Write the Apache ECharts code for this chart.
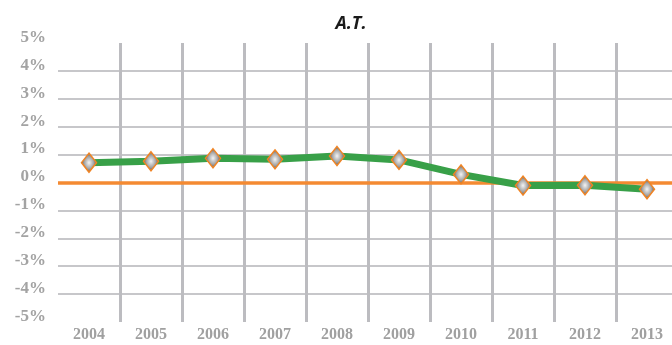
<!DOCTYPE html>
<html><head><meta charset="utf-8">
<script src="https://cdn.jsdelivr.net/npm/echarts@6/dist/echarts.min.js"></script>
<style>html,body{margin:0;padding:0;background:#fff}#c{width:672px;height:345px}</style>
</head><body><div id="c"></div>
<script>
var years = ['2004','2005','2006','2007','2008','2009','2010','2011','2012','2013'];
var values = [0.71, 0.76, 0.87, 0.83, 0.95, 0.81, 0.29, -0.11, -0.10, -0.24];
var yMin = -5, yMax = 5, yStep = 1;
var titleText = 'A.T.';

var chart = echarts.init(document.getElementById('c'));
chart.setOption({
  animation: false,
  backgroundColor: '#ffffff',
  title: {
    text: titleText, left: 346, top: 10, textAlign: 'center',
    textStyle: {fontFamily: 'Open Sans', fontStyle: 'italic', fontWeight: 'bold', fontSize: 18, color: '#1a1a1a'}
  },
  grid: {left: 58, top: 43, width: 620, height: 279, containLabel: false, outerBoundsMode: 'none'},
  xAxis: {
    type: 'category', data: years, boundaryGap: true,
    axisLine: {show: false}, axisTick: {show: false},
    axisLabel: {margin: 5, fontFamily: 'Liberation Serif', fontWeight: 'bold', fontSize: 16, color: '#a0a0a0'},
    splitLine: {show: true, showMinLine: false, lineStyle: {color: '#bcbcc0', width: 3}}
  },
  yAxis: {
    type: 'value', min: yMin, max: yMax, interval: yStep,
    axisLine: {show: false}, axisTick: {show: false},
    axisLabel: {margin: 12, formatter: '{value}%', fontFamily: 'Liberation Serif', fontWeight: 'bold', fontSize: 17, color: '#a3a3a3', verticalAlign: 'bottom', lineHeight: 11},
    splitLine: {show: true, showMinLine: false, showMaxLine: false, lineStyle: {color: '#b4b4b8', width: 1.5}}
  },
  series: [{
    type: 'line', data: values,
    lineStyle: {color: '#38a048', width: 7},
    symbol: 'diamond', symbolSize: [15, 19],
    itemStyle: {
      color: new echarts.graphic.RadialGradient(0.5, 0.5, 0.5, [
        {offset: 0, color: '#f4f4f4'}, {offset: 0.6, color: '#a0a0a0'}, {offset: 1, color: '#4a4a4a'}
      ]),
      borderColor: '#f08424', borderWidth: 1.5
    },
    z: 5,
    markLine: {
      silent: true, symbol: ['none','none'], label: {show: false},
      lineStyle: {color: '#f48a32', width: 3.5, type: 'solid'},
      data: [{yAxis: 0}]
    }
  }]
});
</script></body></html>
